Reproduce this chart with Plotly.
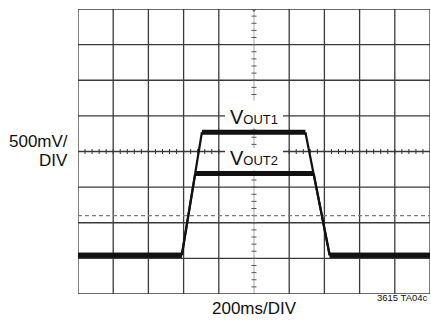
import plotly.graph_objects as go

# Scope capture: 200 ms/div horizontal, 500 mV/div vertical (10 x 8 divisions)
t_vout1 = [0, 590, 704, 1292, 1430, 2000]          # ms
v_vout1 = [0.545, 0.545, 2.27, 2.27, 0.545, 0.545]  # V
t_vout2 = [0, 590, 666, 1339, 1430, 2000]
v_vout2 = [0.545, 0.545, 1.69, 1.69, 0.545, 0.545]

x_div, y_div = 200, 0.5
x_range = [0, 2000]
y_range = [0, 4]
center_x, center_y = 1000, 2.0
cursor_level = 1.10

label_vout1 = "V<span style='font-size:13px'>OUT1</span>"
label_vout2 = "V<span style='font-size:13px'>OUT2</span>"
label_y = [2.49, 1.91]
y_scale_text = ["500mV/", "DIV"]
x_scale_text = "200ms/DIV"
fig_id = "3615 TA04c"

FONT = "Liberation Sans, Arial, Helvetica, sans-serif"
INK = "#111111"
GRID = "#3a3a3a"

fig = go.Figure()


def add_wave(t, v):
    # flat portions are drawn heavy (trace noise band), edges thin
    for i in range(len(t) - 1):
        flat = v[i] == v[i + 1]
        fig.add_trace(go.Scatter(
            x=[t[i], t[i + 1]], y=[v[i], v[i + 1]], mode="lines",
            line=dict(color=INK, width=5 if flat else 2.2),
            hoverinfo="skip", showlegend=False))


add_wave(t_vout1, v_vout1)
add_wave(t_vout2, v_vout2)

shapes = []
n_x = int((x_range[1] - x_range[0]) / x_div)
n_y = int((y_range[1] - y_range[0]) / y_div)

# graticule: vertical lines (centre one is light)
for k in range(n_x + 1):
    xv = x_range[0] + k * x_div
    light = xv == center_x
    shapes.append(dict(type="line", xref="x", yref="y", x0=xv, x1=xv,
                       y0=y_range[0], y1=y_range[1], layer="between",
                       line=dict(color="#b8b8b8" if light else GRID,
                                 width=1.2 if light else 1.3)))
# horizontal lines
for k in range(n_y + 1):
    yv = y_range[0] + k * y_div
    shapes.append(dict(type="line", xref="x", yref="y", x0=x_range[0],
                       x1=x_range[1], y0=yv, y1=yv, layer="between",
                       line=dict(color=GRID, width=1.3)))

# minor ticks on the centre lines, 5 per division
for k in range(1, n_x * 5):
    xv = x_range[0] + k * x_div / 5
    shapes.append(dict(type="line", xref="x", yref="y", ysizemode="pixel",
                       yanchor=center_y, x0=xv, x1=xv, y0=-2.5, y1=2.5,
                       layer="between", line=dict(color="#333", width=1)))
for k in range(1, n_y * 5):
    yv = y_range[0] + k * y_div / 5
    shapes.append(dict(type="line", xref="x", yref="y", xsizemode="pixel",
                       xanchor=center_x, y0=yv, y1=yv, x0=-2.5, x1=2.5,
                       layer="between", line=dict(color="#555", width=1)))

# cursor level
shapes.append(dict(type="line", xref="x", yref="y", x0=x_range[0],
                   x1=x_range[1], y0=cursor_level, y1=cursor_level,
                   layer="between",
                   line=dict(color="#7a7a7a", width=1.2, dash="4px,3px")))

# white backing behind the trace labels (breaks graticule, not traces)
for ly, (h_up, h_dn) in zip(label_y, [(16, 11), (10, 12)]):
    shapes.append(dict(type="rect", xref="x", yref="y", xsizemode="pixel",
                       ysizemode="pixel", xanchor=center_x, yanchor=ly,
                       x0=-29, x1=29, y0=-h_dn, y1=h_up, layer="between",
                       fillcolor="white", line=dict(width=0)))

# trigger marker at top of centre line
fig.add_trace(go.Scatter(
    x=[center_x], y=[y_range[1]], mode="markers", hoverinfo="skip",
    marker=dict(symbol="triangle-down-open", size=5, color="#444",
                line=dict(width=1, color="#444")),
    showlegend=False))

annotations = [
    dict(x=center_x, y=label_y[0], xref="x", yref="y", text=label_vout1,
         showarrow=False, font=dict(family=FONT, size=20, color=INK),
         xanchor="center", yanchor="middle"),
    dict(x=center_x, y=label_y[1], xref="x", yref="y", text=label_vout2,
         showarrow=False, font=dict(family=FONT, size=20, color=INK),
         xanchor="center", yanchor="middle"),
    dict(x=-0.022, y=0.534, xref="paper", yref="paper", text=y_scale_text[0],
         showarrow=False, font=dict(family=FONT, size=17, color=INK),
         xanchor="right", yanchor="middle"),
    dict(x=-0.022, y=0.470, xref="paper", yref="paper", text=y_scale_text[1],
         showarrow=False, font=dict(family=FONT, size=17, color=INK),
         xanchor="right", yanchor="middle"),
    dict(x=0.5, y=-0.05, xref="paper", yref="paper", text=x_scale_text,
         showarrow=False, font=dict(family=FONT, size=17, color=INK),
         xanchor="center", yanchor="middle"),
    dict(x=1.0, y=-0.012, xref="paper", yref="paper", text=fig_id,
         showarrow=False, font=dict(family=FONT, size=9.5, color=INK),
         xanchor="right", yanchor="middle"),
]

axis_common = dict(showgrid=False, zeroline=False, showticklabels=False,
                   ticks="", showline=False, fixedrange=True)

fig.update_layout(
    width=431, height=327,
    margin=dict(l=78, r=1, t=9, b=33),
    paper_bgcolor="white", plot_bgcolor="white",
    xaxis=dict(range=x_range, **axis_common),
    yaxis=dict(range=y_range, **axis_common),
    shapes=shapes, annotations=annotations,
    font=dict(family=FONT),
)

fig.write_html("out.html")
